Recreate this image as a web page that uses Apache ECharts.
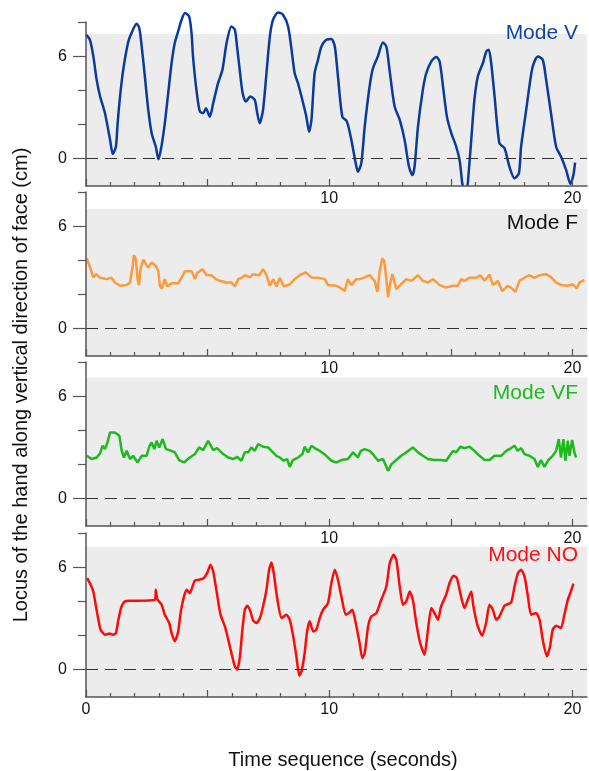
<!DOCTYPE html>
<html lang="en">
<head>
  <meta charset="UTF-8">
  <title>Locus of the hand</title>
  <script src="https://cdn.jsdelivr.net/npm/echarts@6/dist/echarts.min.js"></script>
  <style>html, body { margin: 0; padding: 0; background: #fff; }</style>
</head>
<body>
  <div id="chart" style="width: 589px; height: 771px;"></div>
  <script>
    // [time (s), height (cm)]; null = the trace leaves the frame
    const modeV = [
      [0, 7.26], [0.16, 6.96], [0.3, 6.0], [0.44, 4.6], [0.58, 3.64], [0.78, 2.66], [0.99, 1.1], [1.1, 0.28],
      [1.23, 0.7], [1.29, 1.88], [1.4, 3.64], [1.53, 5.2], [1.74, 6.86], [1.87, 7.35], [2.08, 7.9], [2.19, 7.65],
      [2.29, 6.57], [2.42, 4.81], [2.56, 2.86], [2.7, 1.49], [2.87, 0.7], [2.98, -0.04], [3.1, 0.7], [3.24, 2.07],
      [3.38, 3.84], [3.52, 5.6], [3.65, 6.77], [3.79, 7.45], [3.93, 8.13], [4.07, 8.53], [4.24, 8.33], [4.34, 7.35],
      [4.4, 5.98], [4.54, 4.03], [4.68, 2.76], [4.82, 2.66], [4.93, 2.95], [5.09, 2.46], [5.23, 3.25], [5.43, 4.42],
      [5.61, 5.2], [5.78, 6.77], [5.98, 7.74], [6.12, 7.55], [6.21, 6.57], [6.32, 5.2], [6.44, 3.84], [6.57, 3.34],
      [6.76, 3.64], [6.94, 3.44], [7.03, 2.76], [7.14, 2.07], [7.28, 2.86], [7.42, 5.0], [7.56, 7.16], [7.69, 8.13],
      [7.9, 8.56], [8.1, 8.43], [8.31, 7.74], [8.45, 6.4], [8.58, 5.0], [8.72, 4.4], [8.86, 3.64], [9.06, 2.46],
      [9.17, 1.58], [9.27, 2.27], [9.4, 5.0], [9.54, 5.79], [9.68, 6.57], [9.88, 6.96], [10.09, 7.0], [10.23, 6.57],
      [10.36, 4.81], [10.54, 2.46], [10.73, 2.17], [10.91, 1.1], [11.09, -0.27], [11.18, -0.76], [11.32, -0.27],
      [11.46, 1.88], [11.66, 4.22], [11.8, 5.3], [12.0, 5.98], [12.21, 6.8], [12.35, 6.57], [12.48, 5.2],
      [12.69, 3.05], [12.9, 2.27], [13.1, 1.1], [13.28, -0.47], [13.42, -0.96], [13.51, -0.47], [13.65, 1.88],
      [13.85, 4.03], [13.99, 5.0], [14.2, 5.69], [14.4, 5.95], [14.54, 5.69], [14.68, 4.22], [14.84, 2.46],
      [15.02, 1.49], [15.2, 0.8], [15.36, -0.08], [15.47, -1.44], [15.5, -1.6], null, [15.68, -1.6], [15.7, -1.44],
      [15.84, 1.1], [15.97, 3.44], [16.11, 4.81], [16.32, 5.6], [16.46, 6.28], [16.56, 6.38], [16.66, 5.6],
      [16.8, 3.64], [17.0, 0.9], [17.21, 0.61], [17.41, -0.47], [17.62, -1.15], [17.8, -0.86], [17.89, 0.7],
      [18.1, 2.86], [18.23, 4.22], [18.37, 5.4], [18.58, 5.98], [18.78, 5.79], [18.92, 4.62], [19.12, 2.66],
      [19.33, 0.7], [19.53, 0.12], [19.74, -0.66], [19.92, -1.48], [20.04, -0.96], [20.11, -0.23]
    ]

    const modeF = [
      [0.03, 4.12], [0.17, 3.58], [0.3, 3.0], [0.41, 3.19], [0.58, 2.98], [0.85, 2.9], [1.05, 2.98], [1.19, 2.7],
      [1.4, 2.51], [1.67, 2.55], [1.81, 2.7], [1.92, 3.67], [1.97, 4.3], [2.05, 4.08], [2.12, 2.9], [2.18, 2.55],
      [2.24, 3.5], [2.36, 4.04], [2.46, 3.79], [2.56, 3.58], [2.7, 3.87], [2.88, 3.67], [2.97, 3.38], [3.04, 2.51],
      [3.11, 2.35], [3.24, 2.9], [3.34, 2.47], [3.52, 2.66], [3.79, 2.66], [3.93, 2.98], [4.07, 3.36], [4.34, 3.36],
      [4.48, 2.9], [4.57, 3.26], [4.79, 3.48], [4.96, 3.13], [5.16, 3.13], [5.34, 2.9], [5.5, 2.8], [5.78, 2.7],
      [5.98, 2.7], [6.12, 2.47], [6.26, 2.9], [6.43, 3.0], [6.53, 3.13], [6.74, 3.0], [6.87, 3.19], [7.12, 3.13],
      [7.28, 3.48], [7.42, 3.13], [7.56, 2.51], [7.7, 2.9], [7.83, 2.47], [7.97, 2.98], [8.13, 2.47], [8.38, 2.6],
      [8.58, 2.9], [8.79, 3.13], [9.03, 3.3], [9.27, 3.0], [9.54, 2.98], [9.82, 2.9], [9.95, 2.55], [10.3, 2.51],
      [10.5, 2.35], [10.64, 2.2], [10.77, 2.9], [10.91, 2.55], [11.11, 2.9], [11.25, 2.9], [11.46, 3.0],
      [11.66, 3.13], [11.87, 2.8], [11.98, 2.15], [12.07, 3.3], [12.18, 4.12], [12.26, 3.98], [12.35, 2.9],
      [12.42, 1.83], [12.49, 2.51], [12.59, 3.19], [12.69, 2.7], [12.76, 2.31], [12.96, 2.6], [13.17, 2.9],
      [13.38, 2.8], [13.65, 3.13], [13.85, 2.8], [14.06, 2.7], [14.27, 2.9], [14.54, 2.55], [14.81, 2.41],
      [15.09, 2.51], [15.29, 2.51], [15.43, 2.9], [15.56, 2.8], [15.77, 2.98], [16.05, 2.98], [16.21, 3.13],
      [16.39, 2.8], [16.59, 3.17], [16.73, 2.55], [16.93, 2.8], [17.11, 2.2], [17.34, 2.51], [17.52, 2.35],
      [17.66, 2.15], [17.82, 2.8], [18.03, 2.98], [18.23, 3.13], [18.44, 2.98], [18.65, 3.13], [18.92, 3.19],
      [19.13, 3.0], [19.33, 2.7], [19.54, 2.55], [19.81, 2.51], [20.02, 2.6], [20.18, 2.35], [20.29, 2.7],
      [20.49, 2.86]
    ]

    const modeVF = [
      [0.03, 2.51], [0.23, 2.32], [0.44, 2.41], [0.58, 2.65], [0.68, 3.1], [0.78, 2.9], [0.88, 3.29], [0.99, 3.88],
      [1.19, 3.88], [1.37, 3.69], [1.47, 2.8], [1.56, 2.41], [1.67, 2.8], [1.81, 2.32], [1.94, 2.51], [2.12, 2.12],
      [2.29, 2.51], [2.49, 2.51], [2.6, 3.04], [2.7, 3.29], [2.81, 2.9], [2.9, 3.39], [3.01, 3.0], [3.15, 3.49],
      [3.29, 2.9], [3.52, 2.8], [3.65, 2.71], [3.83, 2.26], [4.03, 2.12], [4.27, 2.41], [4.48, 2.61], [4.65, 3.0],
      [4.82, 2.84], [5.02, 3.39], [5.23, 2.84], [5.39, 2.96], [5.64, 2.61], [5.85, 2.41], [6.05, 2.32], [6.22, 2.45],
      [6.39, 2.22], [6.53, 2.71], [6.67, 2.71], [6.8, 3.0], [6.94, 2.8], [7.08, 3.2], [7.28, 3.04], [7.49, 3.0],
      [7.69, 2.71], [7.83, 2.51], [7.97, 2.41], [8.13, 2.22], [8.27, 2.32], [8.38, 1.86], [8.51, 2.26], [8.72, 2.41],
      [8.9, 2.61], [8.99, 3.04], [9.13, 2.71], [9.27, 3.1], [9.4, 2.96], [9.61, 2.8], [9.88, 2.51], [10.09, 2.22],
      [10.3, 2.12], [10.5, 2.26], [10.77, 2.32], [10.98, 2.71], [11.18, 2.41], [11.3, 2.8], [11.46, 2.9],
      [11.66, 2.8], [11.8, 2.6], [12.01, 2.22], [12.21, 2.32], [12.42, 1.63], [12.56, 2.02], [12.76, 2.26],
      [12.96, 2.51], [13.17, 2.71], [13.44, 3.0], [13.65, 2.71], [13.85, 2.51], [14.06, 2.32], [14.33, 2.26],
      [14.6, 2.26], [14.81, 2.22], [14.95, 2.51], [15.09, 2.8], [15.22, 2.71], [15.39, 3.04], [15.56, 2.96],
      [15.77, 3.04], [15.97, 2.8], [16.18, 2.51], [16.39, 2.26], [16.59, 2.26], [16.8, 2.51], [17.07, 2.51],
      [17.28, 2.8], [17.48, 2.96], [17.62, 3.1], [17.75, 2.8], [17.89, 2.96], [18.03, 2.61], [18.23, 2.51],
      [18.44, 2.32], [18.58, 1.86], [18.71, 2.26], [18.85, 1.86], [18.99, 2.22], [19.19, 2.51], [19.33, 2.8],
      [19.44, 3.49], [19.53, 2.41], [19.63, 3.49], [19.71, 2.22], [19.81, 3.39], [19.88, 2.51], [19.99, 3.43],
      [20.08, 2.71], [20.15, 2.41]
    ]

    const modeNO = [
      [0.05, 5.36], [0.19, 4.97], [0.3, 4.58], [0.41, 3.7], [0.51, 2.92], [0.6, 2.34], [0.78, 2.05], [0.96, 2.11],
      [1.12, 2.05], [1.23, 2.14], [1.33, 2.92], [1.46, 3.7], [1.6, 4.0], [1.81, 4.03], [2.83, 4.09], [2.87, 4.68],
      [2.93, 4.13], [3.11, 3.8], [3.24, 3.22], [3.42, 2.73], [3.52, 2.14], [3.65, 1.66], [3.79, 2.24], [3.9, 3.41],
      [4.03, 4.29], [4.14, 4.68], [4.27, 4.48], [4.38, 4.87], [4.48, 5.22], [4.65, 5.26], [4.84, 5.36], [4.98, 5.65],
      [5.12, 6.14], [5.23, 5.75], [5.37, 4.58], [5.53, 3.22], [5.71, 2.53], [5.85, 1.75], [5.98, 0.97], [6.12, 0.19],
      [6.22, 0.0], [6.33, 0.78], [6.43, 2.34], [6.53, 3.51], [6.63, 3.74], [6.76, 3.41], [6.87, 2.88], [7.01, 2.73],
      [7.15, 3.02], [7.28, 3.7], [7.42, 4.68], [7.53, 5.85], [7.63, 6.28], [7.72, 5.65], [7.86, 4.19], [8.04, 3.02],
      [8.24, 3.22], [8.38, 2.92], [8.52, 1.95], [8.65, 0.78], [8.77, -0.35], [8.86, -0.1], [8.99, 0.97],
      [9.09, 2.24], [9.2, 2.83], [9.34, 2.24], [9.47, 2.34], [9.61, 3.02], [9.75, 3.51], [9.95, 3.9], [10.09, 5.07],
      [10.23, 5.85], [10.36, 5.26], [10.5, 4.29], [10.68, 3.22], [10.81, 3.31], [10.95, 3.51], [11.11, 2.6],
      [11.25, 1.56], [11.36, 0.68], [11.46, 0.97], [11.6, 2.53], [11.73, 3.12], [11.94, 3.31], [12.14, 4.09],
      [12.35, 4.87], [12.49, 6.24], [12.65, 6.73], [12.76, 6.43], [12.9, 4.87], [13.03, 3.8], [13.17, 4.0],
      [13.31, 4.58], [13.44, 4.09], [13.58, 2.73], [13.74, 1.56], [13.92, 0.88], [14.06, 2.34], [14.2, 3.61],
      [14.33, 3.31], [14.47, 2.92], [14.6, 3.7], [14.81, 4.39], [14.95, 5.07], [15.11, 5.5], [15.25, 5.36],
      [15.39, 4.48], [15.56, 3.61], [15.7, 4.09], [15.84, 4.58], [15.93, 3.7], [16.11, 2.53], [16.29, 1.99],
      [16.45, 2.73], [16.59, 3.8], [16.73, 3.51], [16.87, 2.92], [17.0, 3.12], [17.21, 3.74], [17.48, 3.94],
      [17.62, 4.87], [17.76, 5.65], [17.89, 5.85], [18.03, 5.46], [18.17, 4.29], [18.3, 3.22], [18.51, 3.31],
      [18.65, 2.92], [18.78, 1.75], [18.95, 0.78], [19.08, 1.36], [19.19, 2.34], [19.33, 2.57], [19.53, 2.44],
      [19.67, 3.22], [19.81, 4.09], [19.94, 4.58], [20.04, 5.03]
    ]

    const panelNames = ['Mode V', 'Mode F', 'Mode VF', 'Mode NO']
    const panelData = [modeV, modeF, modeVF, modeNO]
    const lineColors = ['#0a3a9e', '#ff9a3a', '#1cbb1c', '#ff0a0a']
    const nameColors = ['#1441a8', '#111111', '#1cbb1c', '#ff1010']
    const lineSmooth = [0.25, 0, 0, 0.2]
    const bandTops = [7.3, 7.0, 7.1, 7.2]
    const xLabelValues = [[10, 20], [10, 20], [10, 20], [0, 10, 20]]

    const chart = echarts.init(document.getElementById('chart'))

    const gridTops = [22, 192, 362, 533]
    const axisColor = '#555'
    const labelFont = { fontSize: 16, color: '#111' }

    const grid = [], xAxis = [], yAxis = [], series = [], graphic = []

    panelData.forEach((data, i) => {
      grid.push({ left: 86, right: 2, top: gridTops[i], height: 164 })

      // long ticks every 5 s with labels
      xAxis.push({
        type: 'value', gridIndex: i, position: 'bottom', min: 0, max: 20.6, z: 10,
        axisLine: { onZero: false, lineStyle: { color: axisColor, width: 1.5 } },
        axisTick: { inside: true, length: 7, customValues: [0, 5, 10, 15, 20], lineStyle: { color: axisColor, width: 1.2 } },
        axisLabel: { ...labelFont, margin: 5, customValues: xLabelValues[i] },
        splitLine: { show: false }
      })
      // short ticks every second
      xAxis.push({
        type: 'value', gridIndex: i, position: 'bottom', offset: 0, min: 0, max: 20.6, z: 10,
        axisLine: { show: false, onZero: false },
        axisTick: { inside: true, length: 4, customValues: [1, 2, 3, 4, 6, 7, 8, 9, 11, 12, 13, 14, 16, 17, 18, 19], lineStyle: { color: axisColor, width: 1.2 } },
        axisLabel: { show: false },
        splitLine: { show: false }
      })

      yAxis.push({
        type: 'value', gridIndex: i, position: 'left', min: -1.6, max: 8, z: 10,
        axisLine: { show: true, onZero: false, lineStyle: { color: axisColor, width: 1.5 } },
        axisTick: { length: 13, customValues: [0, 6], lineStyle: { color: axisColor, width: 1.2 } },
        axisLabel: { ...labelFont, margin: 19, customValues: [0, 6] },
        splitLine: { show: false }
      })
      yAxis.push({
        type: 'value', gridIndex: i, position: 'left', offset: 0, min: -1.6, max: 8, z: 10,
        axisLine: { show: false, onZero: false },
        axisTick: { show: true, length: 8, customValues: [2, 4, 8], lineStyle: { color: axisColor, width: 1.2 } },
        axisLabel: { show: false },
        splitLine: { show: false }
      })

      series.push({
        type: 'line',
        xAxisIndex: 2 * i,
        yAxisIndex: 2 * i,
        data: data,
        clip: false,
        connectNulls: false,
        smooth: lineSmooth[i],
        showSymbol: false,
        lineStyle: { color: lineColors[i], width: 2.5 },
        markArea: {
          silent: true,
          itemStyle: { color: '#ececec' },
          data: [[{ coord: [0, -1.6] }, { coord: [20.6, bandTops[i]] }]]
        },
        markLine: {
          silent: true,
          symbol: ['none', 'none'],
          label: { show: false },
          lineStyle: { color: '#333', width: 1, type: [12, 7] },
          data: [{ yAxis: 0 }]
        }
      })

      graphic.push({
        type: 'text', z: 100,
        x: 578, y: [33, 223, 393, 555][i],
        style: {
          text: panelNames[i], fill: nameColors[i],
          font: '21px "Liberation Sans", Arial, sans-serif',
          textAlign: 'right', textVerticalAlign: 'middle'
        }
      })
    })

    graphic.push({
      type: 'text', z: 100, x: 21, y: 385, rotation: Math.PI / 2,
      style: {
        text: 'Locus of the hand along vertical direction of face (cm)', fill: '#111',
        font: '20px "Liberation Sans", Arial, sans-serif', textAlign: 'center', textVerticalAlign: 'middle'
      }
    })
    graphic.push({
      type: 'text', z: 100, x: 343, y: 760,
      style: {
        text: 'Time sequence (seconds)', fill: '#111',
        font: '20px "Liberation Sans", Arial, sans-serif', textAlign: 'center', textVerticalAlign: 'middle'
      }
    })

    const option = {
      animation: false,
      textStyle: { fontFamily: '"Liberation Sans", Arial, sans-serif' },
      grid, xAxis, yAxis, series, graphic
    }

    chart.setOption(option)
  </script>
</body>
</html>
